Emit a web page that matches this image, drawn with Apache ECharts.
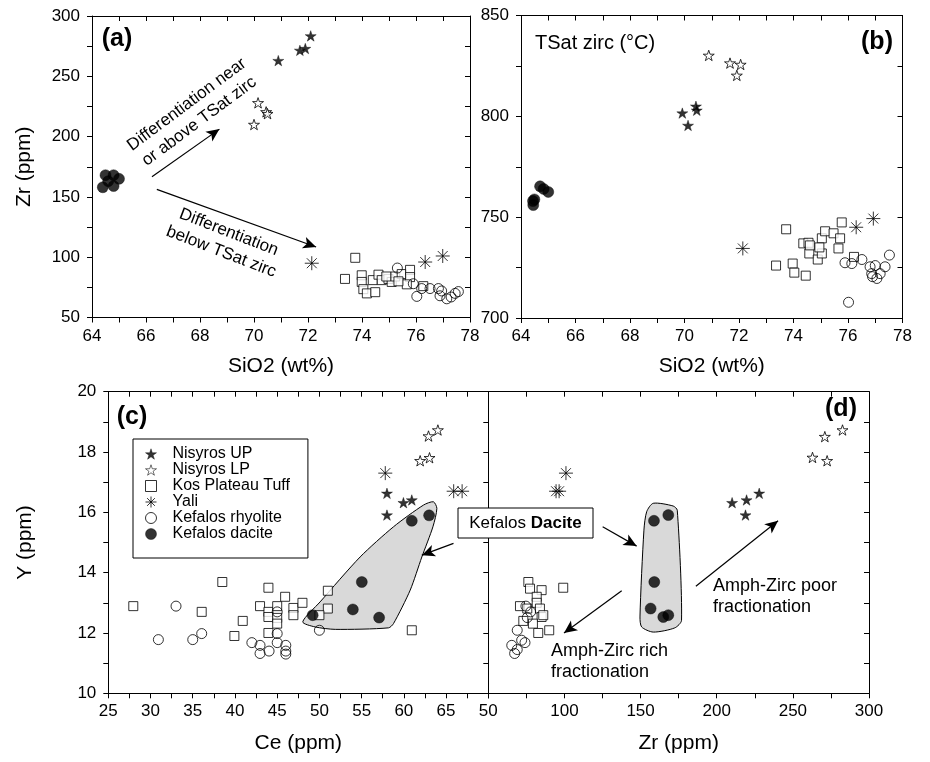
<!DOCTYPE html>
<html><head><meta charset="utf-8">
<script src="https://cdn.jsdelivr.net/npm/echarts@6/dist/echarts.min.js"></script>
<style>html,body{margin:0;padding:0;background:#fff}#c{width:930px;height:762px}</style>
</head><body><div id="c"></div>
<script>
// ---------- DATA ----------
const seriesNames = ['Nisyros UP','Nisyros LP','Kos Plateau Tuff','Yali','Kefalos rhyolite','Kefalos dacite'];

// Panel (a): SiO2 (wt%) vs Zr (ppm)
const a_nisyrosUP = [[70.9,263],[71.7,271.5],[71.9,273],[72.1,283.5]];
const a_nisyrosLP = [[70.15,228],[70.45,220.5],[70.5,219],[70.0,210]];
const a_kos = [[73.37,82],[73.75,99.5],[73.99,85],[73.99,79.5],[74.05,73.5],[74.18,70],[74.4,81],[74.49,71],[74.61,85.5],[74.73,81],[74.98,82],[75.1,79.5],[75.23,84],[75.47,86],[75.78,89.5],[75.78,83.5],[75.66,77.5],[76.27,76],[74.9,84],[75.35,80]];
const a_yali = [[72.14,95],[76.34,96],[76.99,101]];
const a_rhyolite = [[75.31,91],[75.9,78],[76.03,67.5],[76.21,74],[76.52,74],[76.83,74],[76.89,68],[77.14,65.5],[77.45,70],[77.57,71.5],[76.95,72],[77.3,67]];
const a_dacite = [[64.5,168],[64.8,168],[64.4,158],[64.8,159],[65.0,165],[64.6,163]];

// Panel (b): SiO2 (wt%) vs TSat zirc (°C)
const b_nisyrosUP = [[69.92,801.6],[70.13,795.5],[70.42,805],[70.45,803]];
const b_nisyrosLP = [[70.89,830.2],[71.67,826.4],[72.06,825.7],[71.92,820.3]];
const b_kos = [[73.73,744],[73.36,726],[73.97,727],[74.03,722.5],[74.45,721],[74.36,737],[74.55,737.3],[74.58,732],[74.89,729],[75.04,739.5],[75.04,732],[75.16,743],[75.47,742],[75.65,734.5],[75.71,739.5],[75.77,747.4],[76.22,730.3],[74.6,736],[74.95,735]];
const b_yali = [[72.14,734.5],[76.3,745],[76.93,749.3]];
const b_rhyolite = [[75.89,727.4],[76.14,727],[76.51,729],[76.81,725.4],[77.0,726],[77.36,725.4],[77.52,731.2],[76.87,722],[77.06,719.6],[77.18,722],[76.02,707.8],[76.9,720.5]];
const b_dacite = [[64.45,756],[64.49,758.8],[64.7,765.3],[65.0,762.5],[64.44,758],[64.83,764]];

// Panel (c): Ce (ppm) vs Y (ppm)
const c_nisyrosUP = [[58.0,16.63],[58.0,15.91],[59.95,16.32],[60.94,16.41]];
const c_nisyrosLP = [[61.93,17.71],[63.04,17.81],[62.92,18.53],[64.03,18.73]];
const c_kos = [[27.96,12.89],[36.06,12.7],[38.5,13.69],[40.92,12.4],[39.93,11.9],[42.97,12.89],[43.96,13.5],[43.96,12.7],[43.96,12.53],[43.96,12.0],[45.0,12.89],[45.0,12.5],[45.0,12.31],[45.94,13.2],[46.92,12.83],[46.92,12.59],[47.99,13.0],[51.0,13.4],[51.0,12.81],[50.0,12.59],[60.94,12.09]];
const c_yali = [[57.8,17.3],[65.9,16.7],[66.9,16.7]];
const c_rhyolite = [[30.93,11.78],[33.02,12.89],[35.0,11.78],[36.06,11.98],[42.0,11.68],[42.97,11.59],[42.97,11.32],[44.04,11.4],[45.0,12.7],[45.0,11.98],[45.0,11.68],[46.02,11.59],[46.02,11.4],[46.02,11.3],[50.0,12.09]];
const c_dacite = [[49.2,12.59],[53.96,12.78],[55.02,13.69],[57.07,12.51],[60.94,15.72],[62.99,15.9]];

// Panel (d): Zr (ppm) vs Y (ppm)
const d_nisyrosUP = [[210.1,16.32],[219.6,16.41],[227.9,16.63],[218.9,15.91]];
const d_nisyrosLP = [[271.0,18.51],[282.6,18.73],[262.9,17.82],[272.5,17.71]];
const d_kos = [[76.3,13.69],[77.4,13.47],[85.0,13.42],[99.2,13.5],[81.8,13.2],[70.8,12.89],[75.6,12.81],[81.8,13.0],[83.9,12.81],[85.0,12.53],[79.3,12.31],[73.0,12.4],[90.0,12.09],[82.8,12.0],[86.1,12.59]];
const d_yali = [[94.5,16.7],[96.5,16.7],[101,17.3]];
const d_rhyolite = [[74.7,12.89],[77.8,12.7],[75.6,12.51],[69.0,12.09],[71.9,11.76],[65.4,11.59],[74.1,11.68],[67.3,11.32],[69.0,11.45]];
const d_dacite = [[158.8,15.72],[168.2,15.91],[159.0,13.69],[156.6,12.81],[164.9,12.53],[168.2,12.59]];

// Envelopes around Kefalos dacite (data space)
const c_daciteEnvelope = [[48.03,12.37],[50.08,13.03],[54.82,14.52],[58.77,15.52],[62.32,16.24],[63.5,16.35],[63.91,16.13],[63.44,15.52],[62.13,14.52],[60.75,13.42],[58.77,12.31],[58.18,12.17],[51.88,12.12],[49.5,12.2]];
const d_daciteEnvelope = [[158.3,16.3],[171.4,16.21],[174.1,16.07],[176.9,12.42],[172.5,12.17],[158.3,12.03],[150.7,12.2],[149.6,12.53],[152.2,15.41],[154.0,16.02]];

// Arrows (data space)
const a_arrows = [[[66.22,166.7],[68.72,206.2]],[[66.4,156.2],[72.3,108.5]]];
const c_arrows = [[[65.88,14.97],[62.13,14.58]]];
const d_arrows = [[[125.1,15.52],[147.4,14.88]],[[137.6,13.4],[99.7,12.0]],[[186.3,13.55],[240.3,15.72]]];

// ---------- STYLE ----------
const FONT = '"Liberation Sans", Arial, Helvetica, sans-serif';
const STAR = 'path://M0,-1L0.2245,-0.309L0.951,-0.309L0.363,0.118L0.588,0.809L0,0.382L-0.588,0.809L-0.363,0.118L-0.951,-0.309L-0.2245,-0.309Z';
const ASTER = 'path://M0,-1L0,1M-1,0L1,0M-0.707,-0.707L0.707,0.707M-0.707,0.707L0.707,-0.707';

const styles = {
  'Nisyros UP': {symbol: STAR, symbolSize: 11, itemStyle: {color:'#000', borderColor:'#000', borderWidth:0.5}},
  'Nisyros LP': {symbol: STAR, symbolSize: 11, itemStyle: {color:'#fff', borderColor:'#000', borderWidth:1}},
  'Kos Plateau Tuff': {symbol: 'rect', symbolSize: 9, itemStyle: {color:'#fff', borderColor:'#000', borderWidth:1}},
  'Yali': {symbol: ASTER, symbolSize: 14, itemStyle: {color:'none', borderColor:'#000', borderWidth:1}},
  'Kefalos rhyolite': {symbol: 'circle', symbolSize: 10, itemStyle: {color:'rgba(255,255,255,0)', borderColor:'#000', borderWidth:1}},
  'Kefalos dacite': {symbol: 'circle', symbolSize: 11, itemStyle: {color:'#000', borderColor:'#000', borderWidth:0.5}}
};

const axisColor = '#000';
function xAx(g, min, max, interval, top, extra) {
  return Object.assign({
    type:'value', gridIndex:g, min, max, interval, position: top ? 'top' : 'bottom',
    axisLine:{show:true, onZero:false, lineStyle:{color:axisColor, width:1}},
    axisTick:{show:true, inside:!!top, length:5, lineStyle:{color:axisColor}},
    minorTick:{show:true, splitNumber:2, length:5, lineStyle:{color:axisColor}},
    axisLabel:{show:!top, margin:10, fontSize:17, color:'#000', fontFamily:FONT},
    splitLine:{show:false}
  }, extra || {});
}
function yAx(g, min, max, interval, right, extra) {
  return Object.assign({
    type:'value', gridIndex:g, min, max, interval, position: right ? 'right' : 'left',
    axisLine:{show:true, onZero:false, lineStyle:{color:axisColor, width:1}},
    axisTick:{show:true, inside:!!right, length:5, lineStyle:{color:axisColor}},
    minorTick:{show:true, splitNumber:2, length:5, lineStyle:{color:axisColor}},
    axisLabel:{show:!right, margin:12, fontSize:17, color:'#000', fontFamily:FONT},
    splitLine:{show:false}
  }, extra || {});
}
const nameStyle = {fontSize:21, color:'#000', fontFamily:FONT};

const xAxis = [
  xAx(0,64,78,2,false,{name:'SiO2 (wt%)', nameLocation:'middle', nameGap:38, nameTextStyle:nameStyle}),
  xAx(0,64,78,2,true),
  xAx(1,64,78,2,false,{name:'SiO2 (wt%)', nameLocation:'middle', nameGap:38, nameTextStyle:nameStyle}),
  xAx(1,64,78,2,true),
  xAx(2,25,70,5,false,{name:'Ce (ppm)', nameLocation:'middle', nameGap:39, nameTextStyle:nameStyle}),
  xAx(2,25,70,5,true),
  xAx(3,50,300,50,false,{name:'Zr (ppm)', nameLocation:'middle', nameGap:39, nameTextStyle:nameStyle}),
  xAx(3,50,300,50,true)
];
xAxis[4].axisLabel.formatter = v => (v === 70 ? '' : String(v));

const yAxis = [
  yAx(0,50,300,50,false,{name:'Zr (ppm)', nameLocation:'middle', nameGap:57, nameTextStyle:nameStyle}),
  yAx(0,50,300,50,true),
  yAx(1,700,850,50,false),
  yAx(1,700,850,50,true),
  yAx(2,10,20,2,false,{name:'Y (ppm)', nameLocation:'middle', nameGap:73, nameTextStyle:nameStyle}),
  yAx(2,10,20,2,true),
  yAx(3,10,20,2,false),
  yAx(3,10,20,2,true)
];
yAxis[6].axisTick = {show:false};
yAxis[6].minorTick = {show:false};
yAxis[6].axisLabel = {show:false};

const grid = [
  {left:92, top:16, width:378, height:301.5},
  {left:521, top:15.5, width:381.5, height:302.5},
  {left:108.3, top:391.7, width:380, height:301.6},
  {left:488.3, top:391.7, width:380.7, height:301.6}
];

const panels = [
  {xi:0, yi:0, data:[a_nisyrosUP,a_nisyrosLP,a_kos,a_yali,a_rhyolite,a_dacite], arrows:a_arrows},
  {xi:2, yi:2, data:[b_nisyrosUP,b_nisyrosLP,b_kos,b_yali,b_rhyolite,b_dacite], arrows:[]},
  {xi:4, yi:4, data:[c_nisyrosUP,c_nisyrosLP,c_kos,c_yali,c_rhyolite,c_dacite], arrows:c_arrows, env:c_daciteEnvelope},
  {xi:6, yi:6, data:[d_nisyrosUP,d_nisyrosLP,d_kos,d_yali,d_rhyolite,d_dacite], arrows:d_arrows, env:d_daciteEnvelope}
];

const series = [];
const drawOrder = [2,4,3,1,0,5];
panels.forEach(p => {
  if (p.env) {
    const env = p.env;
    series.push({
      type:'custom', xAxisIndex:p.xi, yAxisIndex:p.yi, silent:true, z:1,
      data:[env[0]],
      renderItem:(params, api) => ({
        type:'polygon',
        shape:{points: env.map(pt => api.coord(pt)), smooth:0.25},
        style:{fill:'#d9d9d9', stroke:'#000', lineWidth:1}
      })
    });
  }
  drawOrder.forEach((k, idx) => {
    const name = seriesNames[k];
    const s = Object.assign({type:'scatter', name, xAxisIndex:p.xi, yAxisIndex:p.yi, data:p.data[k], z:3, symbolKeepAspect:true}, JSON.parse(JSON.stringify(styles[name])));
    if (idx === 0 && p.arrows.length) {
      s.markLine = {
        silent:true, animation:false, symbol:['none','arrow'], symbolSize:[9,13],
        lineStyle:{color:'#000', width:1.2, type:'solid'}, label:{show:false},
        data: p.arrows.map(ar => [{coord:ar[0]},{coord:ar[1]}])
      };
    }
    series.push(s);
  });
});

function txt(x, y, text, size, opts) {
  return Object.assign({type:'text', x, y, z:100, style:Object.assign({text, fontSize:size, fontFamily:FONT, fill:'#000', align:'center', verticalAlign:'middle'}, (opts && opts.style) || {})}, (opts && opts.el) || {});
}

const graphic = [
  txt(117, 39, '(a)', 25, {style:{fontWeight:'bold'}}),
  txt(877, 42, '(b)', 25, {style:{fontWeight:'bold'}}),
  txt(132, 417, '(c)', 25, {style:{fontWeight:'bold'}}),
  txt(841, 409, '(d)', 25, {style:{fontWeight:'bold'}}),
  txt(535, 43, 'TSat zirc (°C)', 20, {style:{align:'left'}}),
  txt(193, 113, 'Differentiation near\nor above TSat zirc', 17, {style:{lineHeight:21}, el:{rotation:0.64}}),
  txt(225, 242, 'Differentiation\nbelow TSat zirc', 17, {style:{lineHeight:21}, el:{rotation:-0.37}}),
  {type:'rect', z:99, shape:{x:458, y:508, width:135, height:30}, style:{fill:'#fff', stroke:'#000', lineWidth:1}},
  {type:'text', z:100, x:525.5, y:523, style:{text:'{n|Kefalos }{b|Dacite}', align:'center', verticalAlign:'middle',
    rich:{n:{fontSize:17, fontFamily:FONT, fill:'#000'}, b:{fontSize:17, fontFamily:FONT, fontWeight:'bold', fill:'#000'}}}},
  txt(713, 597, 'Amph-Zirc poor\nfractionation', 18, {style:{align:'left', lineHeight:21}}),
  txt(551, 662, 'Amph-Zirc rich\nfractionation', 18, {style:{align:'left', lineHeight:21}})
];

const legendData = seriesNames.map(n => {
  const st = styles[n];
  const item = {name:n, itemStyle:{color:st.itemStyle.color, borderColor:'#000', borderWidth: n === 'Nisyros LP' ? 0.7 : st.itemStyle.borderWidth}};
  return item;
});

const chart = echarts.init(document.getElementById('c'), null, {renderer:'canvas'});
chart.setOption({
  animation:false,
  backgroundColor:'#fff',
  textStyle:{fontFamily:FONT},
  grid, xAxis, yAxis, series, graphic,
  legend:{
    data: legendData, orient:'vertical', left:133, top:439,
    padding:[7,18,16,10], itemGap:0, itemWidth:11, itemHeight:11,
    borderColor:'#000', borderWidth:1, borderRadius:0, backgroundColor:'#fff',
    selectedMode:false, z:50,
    formatter:'{t|{name}}',
    textStyle:{fontSize:16, fontFamily:FONT, color:'#000', rich:{t:{fontSize:16, fontFamily:FONT, color:'#000', padding:[0,0,0,11], lineHeight:15}}}
  }
});
</script></body></html>
